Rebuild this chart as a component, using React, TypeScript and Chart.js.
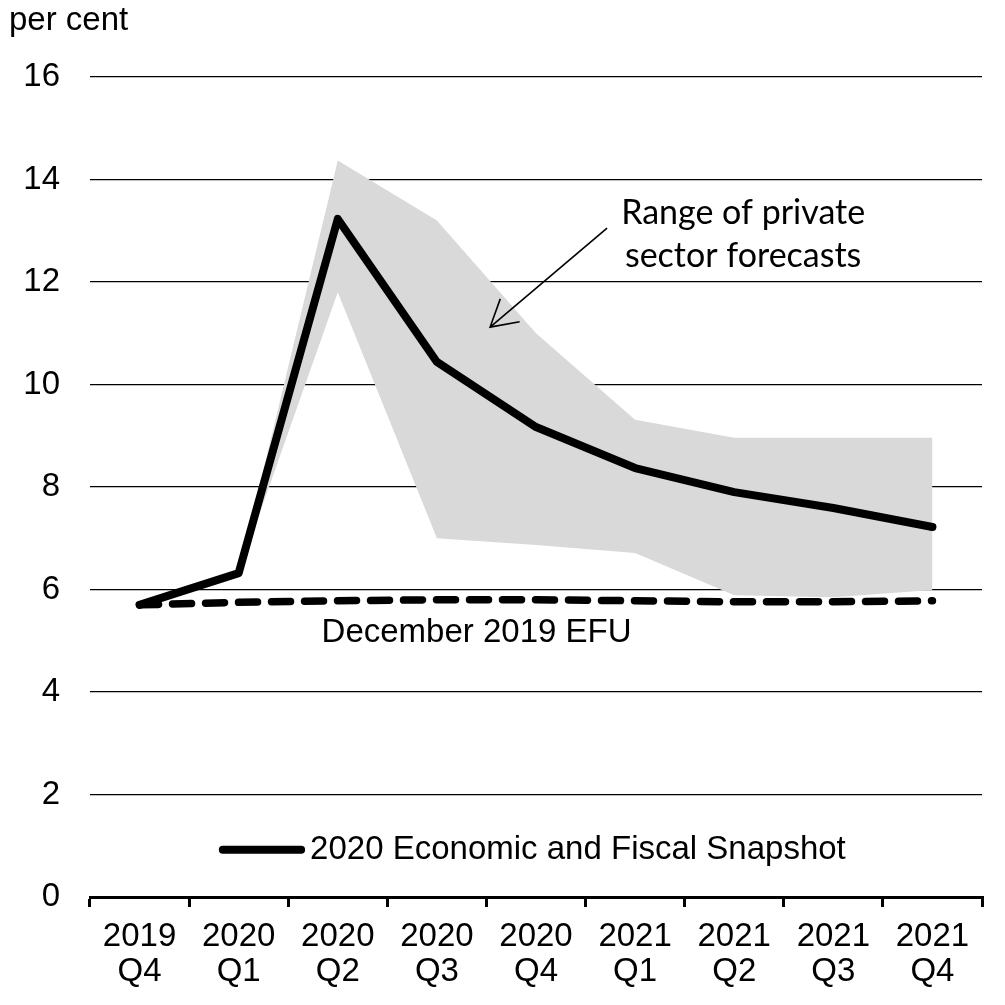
import React, { useEffect, useRef } from 'react';
import { Chart, registerables } from 'chart.js';

Chart.register(...registerables);

const categories: string[][] = [
  ['2019', 'Q4'], ['2020', 'Q1'], ['2020', 'Q2'], ['2020', 'Q3'], ['2020', 'Q4'],
  ['2021', 'Q1'], ['2021', 'Q2'], ['2021', 'Q3'], ['2021', 'Q4'],
];
const snapshot = [5.7, 6.32, 13.23, 10.44, 9.17, 8.37, 7.9, 7.59, 7.22];
const december2019EFU = [5.7, 5.75, 5.78, 5.8, 5.8, 5.78, 5.76, 5.76, 5.78];
const rangeHigh = [null, 6.32, 14.37, 13.2, 11.0, 9.31, 8.96, 8.96, 8.96];
const rangeLow = [null, 6.32, 11.8, 7.0, 6.87, 6.71, 5.89, 5.85, 5.99];
const yMin = 0;
const yMax = 16;
const yStep = 2;

const unitLabel = 'per cent';
const snapshotLabel = '2020 Economic and Fiscal Snapshot';
const efuLabel = 'December 2019 EFU';
const rangeLabel = ['Range of private', 'sector forecasts'];

const FONT = "'Liberation Sans', Arial, sans-serif";
const NOTE_FONT = "Lato, 'Open Sans', sans-serif";

const annotationPlugin = {
  id: 'annotationPlugin',
  afterDatasetsDraw(chart: any) {
    const { ctx, scales } = chart;
    const x = scales.x;
    const y = scales.y;
    ctx.save();
    ctx.fillStyle = '#000';
    ctx.strokeStyle = '#000';

    // unit label
    ctx.font = `33px ${FONT}`;
    ctx.textAlign = 'left';
    ctx.textBaseline = 'middle';
    ctx.fillText(unitLabel, 9, 21);

    // EFU label
    ctx.textAlign = 'center';
    ctx.fillText(efuLabel, x.getPixelForValue(3.4), y.getPixelForValue(5.15));

    // legend
    const ly = y.getPixelForValue(0.92);
    const lx0 = x.getPixelForValue(0.84);
    const lx1 = x.getPixelForValue(1.63);
    ctx.lineWidth = 8;
    ctx.lineCap = 'round';
    ctx.beginPath();
    ctx.moveTo(lx0, ly);
    ctx.lineTo(lx1, ly);
    ctx.stroke();
    ctx.textAlign = 'left';
    ctx.fillText(snapshotLabel, lx1 + 9, ly);

    // range note
    ctx.font = `34px ${NOTE_FONT}`;
    ctx.textAlign = 'center';
    const nx = x.getPixelForValue(6.09);
    ctx.fillText(rangeLabel[0], nx, y.getPixelForValue(13.35));
    ctx.fillText(rangeLabel[1], nx, y.getPixelForValue(12.5));

    // arrow
    const sx = x.getPixelForValue(4.717);
    const sy = y.getPixelForValue(13.05);
    const tx = x.getPixelForValue(3.537);
    const ty = y.getPixelForValue(11.12);
    ctx.lineWidth = 1.6;
    ctx.lineCap = 'butt';
    ctx.beginPath();
    ctx.moveTo(sx, sy);
    ctx.lineTo(tx, ty);
    const ang = Math.atan2(sy - ty, sx - tx);
    const len = 30;
    const spread = (30 * Math.PI) / 180;
    ctx.moveTo(tx + len * Math.cos(ang - spread), ty + len * Math.sin(ang - spread));
    ctx.lineTo(tx, ty);
    ctx.lineTo(tx + len * Math.cos(ang + spread), ty + len * Math.sin(ang + spread));
    ctx.stroke();
    ctx.restore();
  },
};

export default function App() {
  const canvasRef = useRef<HTMLCanvasElement | null>(null);

  useEffect(() => {
    if (!canvasRef.current) return;
    const chart = new Chart(canvasRef.current, {
      type: 'line',
      data: {
        labels: categories,
        datasets: [
          {
            label: snapshotLabel,
            data: snapshot,
            borderColor: '#000',
            borderWidth: 8,
            borderCapStyle: 'round',
            borderJoinStyle: 'round',
            pointRadius: 0,
            fill: false,
            tension: 0,
            order: 0,
          },
          {
            label: efuLabel,
            data: december2019EFU,
            borderColor: '#000',
            borderWidth: 7.5,
            borderDash: [19, 14],
            borderCapStyle: 'round',
            pointRadius: 0,
            fill: false,
            tension: 0,
            order: 1,
          },
          {
            label: 'Range high',
            data: rangeHigh,
            borderWidth: 0,
            borderColor: 'rgba(0,0,0,0)',
            backgroundColor: '#d9d9d9',
            pointRadius: 0,
            fill: '+1',
            tension: 0,
            order: 2,
          },
          {
            label: 'Range low',
            data: rangeLow,
            borderWidth: 0,
            borderColor: 'rgba(0,0,0,0)',
            pointRadius: 0,
            fill: false,
            tension: 0,
            order: 3,
          },
        ],
      },
      options: {
        animation: false,
        responsive: false,
        maintainAspectRatio: false,
        layout: { padding: { top: 77, right: 23, left: 0, bottom: 0 } },
        plugins: {
          legend: { display: false },
          tooltip: { enabled: false },
          title: { display: false },
        },
        scales: {
          x: {
            type: 'category',
            offset: true,
            grid: {
              display: true,
              drawOnChartArea: false,
              drawTicks: true,
              tickLength: 10,
              offset: true,
              color: '#000',
              lineWidth: 3,
            },
            border: { display: true, color: '#000', width: 3 },
            ticks: {
              color: '#000',
              font: { family: FONT, size: 33, lineHeight: 1.06 },
              padding: 12,
              maxRotation: 0,
              autoSkip: false,
            },
            afterFit(scale: any) {
              scale.height = 108;
            },
          },
          y: {
            min: yMin,
            max: yMax,
            grid: {
              color: '#000',
              lineWidth: 1.2,
              drawTicks: false,
            },
            border: { display: false },
            ticks: {
              stepSize: yStep,
              color: '#000',
              font: { family: FONT, size: 33 },
              padding: 30,
            },
            afterFit(scale: any) {
              scale.width = 90;
            },
          },
        },
      },
      plugins: [annotationPlugin],
    } as any);
    return () => chart.destroy();
  }, []);

  return (
    <div style={{ position: 'absolute', left: 0, top: 0, width: 1005, height: 1005, background: '#fff' }}>
      <canvas ref={canvasRef} width={1005} height={1005} style={{ display: 'block' }} />
    </div>
  );
}
